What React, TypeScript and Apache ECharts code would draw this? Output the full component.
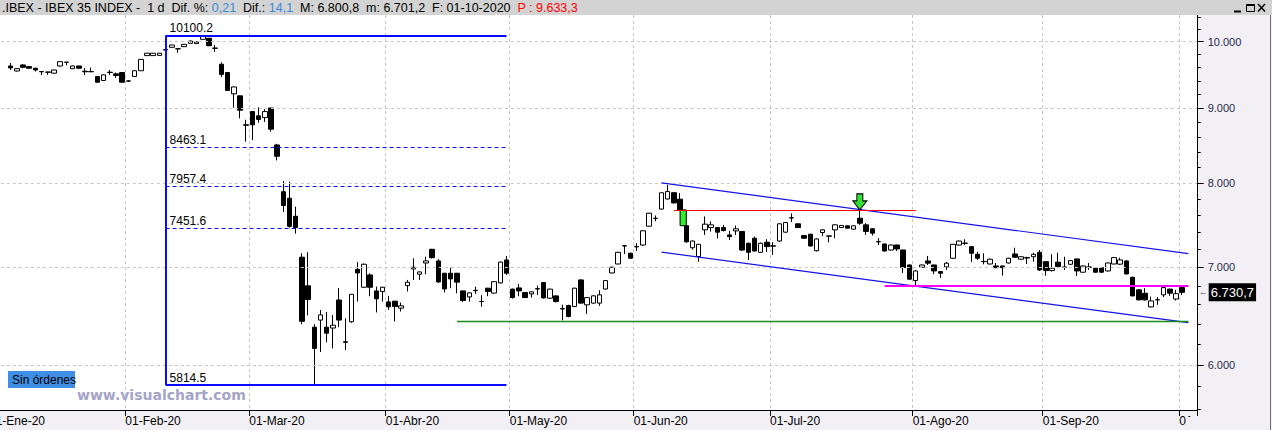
import React, { useEffect, useRef } from "react";
import * as echarts from "echarts";

// ---- categories (trading days 2020) ----
const monthNames = ["Ene", "Feb", "Mar", "Abr", "May", "Jun", "Jul", "Ago", "Sep", "Oct"];
const tradingDays: number[][] = [
  [2, 3, 6, 7, 8, 9, 10, 13, 14, 15, 16, 17, 20, 21, 22, 23, 24, 27, 28, 29, 30, 31],
  [3, 4, 5, 6, 7, 10, 11, 12, 13, 14, 17, 18, 19, 20, 21, 24, 25, 26, 27, 28],
  [2, 3, 4, 5, 6, 9, 10, 11, 12, 13, 16, 17, 18, 19, 20, 23, 24, 25, 26, 27, 30, 31],
  [1, 2, 3, 6, 7, 8, 9, 14, 15, 16, 17, 20, 21, 22, 23, 24, 27, 28, 29, 30],
  [4, 5, 6, 7, 8, 11, 12, 13, 14, 15, 18, 19, 20, 21, 22, 25, 26, 27, 28, 29],
  [1, 2, 3, 4, 5, 8, 9, 10, 11, 12, 15, 16, 17, 18, 19, 22, 23, 24, 25, 26, 29, 30],
  [1, 2, 3, 6, 7, 8, 9, 10, 13, 14, 15, 16, 17, 20, 21, 22, 23, 24, 27, 28, 29, 30, 31],
  [3, 4, 5, 6, 7, 10, 11, 12, 13, 14, 17, 18, 19, 20, 21, 24, 25, 26, 27, 28, 31],
  [1, 2, 3, 4, 7, 8, 9, 10, 11, 14, 15, 16, 17, 18, 21, 22, 23, 24, 25, 28, 29, 30],
  [1],
];
const trailingEmpty = [" ", "  "];

// ---- OHLC values: [open, close, low, high] ----
type C = number[] | null;
const jan: C[] = [
  null, null, null,
  [9624, 9594, 9563, 9668], [9548, 9583, 9540, 9590], [9639, 9604, 9590, 9655], [9614, 9590, 9580, 9625],
  [9590, 9563, 9540, 9595], [9540, 9536, 9487, 9542], [9532, 9530, 9490, 9534], [9515, 9563, 9510, 9566],
  [9624, 9690, 9615, 9695], [9682, 9680, 9633, 9685], [9583, 9624, 9580, 9628], [9624, 9590, 9585, 9628],
  [9545, 9536, 9487, 9590], [9540, 9536, 9532, 9600], [9465, 9380, 9375, 9470], [9405, 9490, 9400, 9495],
  [9530, 9525, 9490, 9563], [9505, 9480, 9445, 9525], [9525, 9380, 9375, 9530],
];
const feb: C[] = [
  [9395, 9400, 9390, 9410], [9465, 9552, 9460, 9560], [9552, 9725, 9548, 9728], [9783, 9820, 9780, 9823],
  [9783, 9820, 9780, 9823], [9786, 9820, 9783, 9823], [9875, 9870, 9860, 9885], [9912, 9948, 9905, 9950],
  [9890, 9888, 9825, 9892], [9922, 9959, 9918, 9962], [9975, 10011, 9970, 10015], [9970, 9995, 9967, 9998],
  [10038, 10090, 10035, 10100.2], [10055, 9937, 9930, 10060], [9900, 9897, 9840, 9948], [9650, 9497, 9460, 9680],
  [9525, 9260, 9255, 9530], [9210, 9310, 9010, 9315], [9180, 8975, 8860, 9185], [8770, 8765, 8540, 8840],
];
const mar: C[] = [
  [8955, 8770, 8560, 8960], [8895, 8845, 8800, 9015], [8870, 8955, 8810, 8990], [9005, 8710, 8675, 9010],
  [8495, 8345, 8290, 8510], [7890, 7720, 7640, 8025], [7810, 7470, 7455, 8015], [7590, 7455, 7385, 7705],
  [7115, 6430, 6400, 7160], [6800, 6655, 6490, 7170], [6370, 6160, 5814.5, 6400], [6442, 6495, 6125, 6545],
  [6370, 6310, 6220, 6525], [6362, 6390, 6160, 6495], [6650, 6442, 6370, 6775], [6225, 6220, 6144, 6460],
  [6425, 6710, 6415, 6712], [6980, 6940, 6633, 7059], [6785, 7036, 6780, 7045], [6918, 6785, 6690, 6936],
  [6746, 6662, 6520, 6792], [6740, 6785, 6633, 6790],
];
const apr: C[] = [
  [6630, 6578, 6547, 6693], [6637, 6582, 6428, 6640], [6565, 6589, 6530, 6623], [6803, 6839, 6740, 6864],
  [6984, 7003, 6864, 7102], [6926, 6951, 6864, 6955], [7050, 7073, 6926, 7120], [7204, 7110, 7100, 7210],
  [7073, 6842, 6832, 7092], [6937, 6767, 6730, 6940], [6937, 6875, 6775, 6998], [6937, 6840, 6720, 6940],
  [6746, 6644, 6630, 6750], [6682, 6725, 6633, 6728], [6752, 6748, 6714, 6790], [6635, 6633, 6580, 6700],
  [6775, 6740, 6690, 6778], [6723, 6845, 6715, 6850], [6832, 7060, 6825, 7065], [7084, 6937, 6918, 7129],
];
const may: C[] = [
  [6765, 6675, 6665, 6770], [6778, 6746, 6690, 6821], [6729, 6675, 6670, 6735], [6714, 6736, 6675, 6740],
  [6770, 6766, 6704, 6802], [6835, 6672, 6665, 6840], [6669, 6765, 6660, 6770], [6693, 6633, 6625, 6700],
  [6560, 6556, 6440, 6600], [6592, 6479, 6470, 6600], [6582, 6775, 6575, 6780], [6864, 6617, 6610, 6870],
  [6599, 6675, 6506, 6680], [6617, 6693, 6610, 6700], [6617, 6704, 6589, 6752], [6766, 6857, 6760, 6862],
  [6940, 7003, 6935, 7008], [7039, 7170, 7035, 7175], [7244, 7242, 7151, 7248], [7160, 7104, 7095, 7165],
];
const jun: C[] = [
  [7235, 7232, 7186, 7273], [7253, 7418, 7245, 7422], [7472, 7627, 7468, 7630], [7565, 7566, 7530, 7600],
  [7677, 7877, 7670, 7880], [7800, 7892, 7795, 7976], [7878, 7752, 7745, 7882], [7798, 7667, 7667, 7873],
  [7478, 7290, 7280, 7480], [7222, 7299, 7200, 7305], [7122, 7261, 7065, 7265], [7429, 7496, 7370, 7588],
  [7456, 7488, 7408, 7528], [7456, 7402, 7330, 7460], [7456, 7421, 7410, 7488], [7370, 7350, 7311, 7417],
  [7417, 7441, 7370, 7480], [7410, 7196, 7185, 7415], [7273, 7170, 7084, 7280], [7331, 7185, 7178, 7350],
  [7170, 7273, 7165, 7280], [7285, 7235, 7175, 7320],
];
const jul: C[] = [
  [7244, 7240, 7140, 7285], [7299, 7500, 7290, 7505], [7402, 7515, 7395, 7520], [7572, 7570, 7520, 7625],
  [7500, 7456, 7450, 7505], [7362, 7331, 7325, 7368], [7378, 7242, 7235, 7383], [7188, 7323, 7180, 7330],
  [7398, 7429, 7355, 7435], [7358, 7355, 7285, 7362], [7429, 7488, 7331, 7496], [7456, 7480, 7450, 7485],
  [7476, 7449, 7444, 7481], [7437, 7476, 7430, 7481], [7567, 7507, 7488, 7690], [7488, 7410, 7370, 7508],
  [7441, 7390, 7362, 7449], [7292, 7290, 7253, 7331], [7265, 7185, 7180, 7270], [7196, 7253, 7190, 7258],
  [7253, 7208, 7185, 7258], [7196, 6998, 6940, 7200], [7028, 6872, 6865, 7032],
];
const aug: C[] = [
  [6857, 6962, 6799, 6973], [7003, 7028, 6998, 7032], [7073, 7048, 7028, 7129], [7028, 6962, 6926, 7032],
  [6955, 6937, 6886, 6960], [7006, 7048, 6973, 7062], [7103, 7261, 7098, 7265], [7253, 7299, 7248, 7303],
  [7275, 7273, 7253, 7319], [7234, 7159, 7062, 7238], [7148, 7103, 7084, 7177], [7067, 7065, 7035, 7159],
  [7039, 7092, 7035, 7098], [7017, 6998, 6992, 7050], [7017, 6998, 6910, 7020], [7050, 7103, 7045, 7108],
  [7151, 7115, 7110, 7222], [7092, 7120, 7088, 7125], [7110, 7106, 7039, 7120], [7120, 7147, 7065, 7166],
  [7170, 6973, 6962, 7196],
];
const sep: C[] = [
  [7065, 6966, 6910, 7070], [6966, 6992, 6955, 7148], [7059, 7010, 6992, 7166], [7005, 7003, 6973, 7120],
  [7036, 7076, 7030, 7080], [7095, 6962, 6907, 7100], [6948, 7017, 6943, 7022], [7005, 7003, 6973, 7050],
  [6992, 6948, 6943, 6997], [6998, 6948, 6943, 7003], [6962, 7050, 6955, 7055], [7039, 7110, 7035, 7115],
  [7037, 7084, 7028, 7110], [7073, 6929, 6924, 7078], [6893, 6693, 6688, 6897], [6757, 6651, 6645, 6762],
  [6721, 6651, 6644, 6775], [6578, 6640, 6571, 6686], [6653, 6651, 6599, 6680], [6704, 6781, 6680, 6785],
  [6765, 6722, 6693, 6770], [6660, 6716.6, 6644, 6757],
];
const oct: C[] = [[6781, 6730.7, 6701.2, 6800.8]];

// ---- drawing-tool values ----
const fibHigh = 10100.2;
const fibLow = 5814.5;
const fibLevels = [8463.1, 7957.4, 7451.6];
const fibFromIdx = 28;
const fibToIdx = 83;
const channelUpper = [[108, 8000], [193, 7155]];
const channelLower = [[108, 7172], [193, 6416]];
const redLevel = 7667;
const redRange = [110, 149];
const gapTop = 7667;
const gapBottom = 7478;
const gapRange = [111, 112];
const arrowIdx = 140;
const magentaLevel = 6800.8;
const magentaRange = [144, 193];
const greenLevel = 6435;
const greenRange = [75, 193];
const lastPrice = 6730.7;
const lastPriceText = "6.730,7";

// ---- axis ticks ----
const majorTicks = [6000, 7000, 8000, 9000, 10000];
const minorTicks = [5600, 5800, 6000, 6200, 6400, 6600, 6800, 7000, 7200, 7400, 7600, 7800, 8000, 8200, 8400, 8600, 8800, 9000, 9200, 9400, 9600, 9800, 10000, 10200, 10400];

const FONT = '"Liberation Sans", Arial, sans-serif';
const SX = 14; // container is shifted 14px to the left of the page

function buildCategories() {
  const cats: string[] = [];
  const starts: Record<number, string> = {};
  tradingDays.forEach((days, m) => {
    days.forEach((d, k) => {
      if (k === 0) starts[cats.length] = "01-" + monthNames[m] + "-20";
      cats.push(String(d).padStart(2, "0") + "-" + String(m + 1).padStart(2, "0") + "-2020");
    });
  });
  trailingEmpty.forEach((c) => cats.push(c));
  return { cats, starts };
}

const fmtThousands = (v: number) => String(Math.round(v)).replace(/\B(?=(\d{3})+(?!\d))/g, ".");

export default function App() {
  const ref = useRef<HTMLDivElement>(null);
  useEffect(() => {
    if (!ref.current) return;
    const chart = echarts.init(ref.current, undefined, { renderer: "svg" });
    const { cats, starts } = buildCategories();
    const candles = [...jan, ...feb, ...mar, ...apr, ...may, ...jun, ...jul, ...aug, ...sep, ...oct].map((c) =>
      c ? c : ["-", "-", "-", "-"]
    );
    const isStart = (i: number) => starts[i] !== undefined;

    const fibLabel = (t: string) => ({
      show: true,
      position: "insideStartTop",
      formatter: t,
      color: "#000",
      fontSize: 12,
      fontFamily: FONT,
      distance: [4, 1],
    });
    const noLabel = { show: false };

    const markLineData: any[] = [
      [
        { coord: [fibFromIdx, fibHigh], lineStyle: { color: "#0a0aff", width: 2, type: "solid" }, label: fibLabel(String(fibHigh)) },
        { coord: [fibToIdx, fibHigh] },
      ],
      ...fibLevels.map((v) => [
        { coord: [fibFromIdx, v], lineStyle: { color: "#0a0aff", width: 1, type: [4, 3] }, label: fibLabel(String(v)) },
        { coord: [fibToIdx, v] },
      ]),
      [
        { coord: [fibFromIdx, fibLow], lineStyle: { color: "#0a0aff", width: 2, type: "solid" }, label: fibLabel(String(fibLow)) },
        { coord: [fibToIdx, fibLow] },
      ],
      [
        { coord: [fibFromIdx, fibHigh], lineStyle: { color: "#0a0aff", width: 2, type: "solid" }, label: noLabel },
        { coord: [fibFromIdx, fibLow] },
      ],
      [
        { coord: channelUpper[0], lineStyle: { color: "#1414e6", width: 1.2, type: "solid" }, label: noLabel },
        { coord: channelUpper[1] },
      ],
      [
        { coord: channelLower[0], lineStyle: { color: "#1414e6", width: 1.2, type: "solid" }, label: noLabel },
        { coord: channelLower[1] },
      ],
      [
        { coord: [greenRange[0], greenLevel], lineStyle: { color: "#1a8c1a", width: 1.3, type: "solid" }, label: noLabel },
        { coord: [greenRange[1], greenLevel] },
      ],
      [
        { coord: [redRange[0], redLevel], lineStyle: { color: "#ff0000", width: 1.2, type: "solid" }, label: noLabel },
        { coord: [redRange[1], redLevel] },
      ],
      [
        { coord: [magentaRange[0], magentaLevel], lineStyle: { color: "#ff00ff", width: 2, type: "solid" }, label: noLabel },
        { coord: [magentaRange[1], magentaLevel] },
      ],
    ];

    const priceTagLine: any[] = [
      {
        yAxis: lastPrice,
        lineStyle: { color: "rgba(0,0,0,0)", width: 1, type: "solid" },
        label: {
          show: true,
          position: "end",
          distance: 1,
          formatter: "{a|←}{b|" + lastPriceText + "}",
          rich: {
            a: { color: "#555", fontSize: 9, fontFamily: FONT, padding: [0, 1, 0, 0] },
            b: { color: "#fff", backgroundColor: "#000", fontSize: 13, fontFamily: FONT, padding: [3, 2, 2, 2] },
          },
        },
      },
    ];

    const option: any = {
      animation: false,
      backgroundColor: "#ffffff",
      grid: { left: 0.5, right: 74.3, top: 15, bottom: 20, containLabel: false },
      xAxis: {
        type: "category",
        data: cats,
        boundaryGap: true,
        z: 0,
        axisLine: { show: true, lineStyle: { color: "#000", width: 1 } },
        axisTick: { show: true, interval: (i: number) => isStart(i), length: 6, lineStyle: { color: "#000" } },
        axisLabel: {
          show: true,
          interval: (i: number) => isStart(i),
          formatter: (_v: string, i: number) => starts[i] || "",
          align: "left",
          color: "#000",
          fontSize: 12,
          fontFamily: FONT,
          margin: 5,
          padding: [0, 0, 0, -3],
        },
        splitLine: { show: true, interval: (i: number) => isStart(i), lineStyle: { color: "#c8c8c8", type: [3, 3], width: 1 } },
      },
      yAxis: [
        {
          type: "log",
          logBase: 10,
          min: 5589,
          max: 10431,
          position: "right",
          z: 3,
          axisLine: { show: true, lineStyle: { color: "#000", width: 1 } },
          axisTick: { show: true, customValues: majorTicks, length: 6, lineStyle: { color: "#000" } },
          axisLabel: {
            show: true,
            customValues: majorTicks,
            formatter: (v: number) => fmtThousands(v),
            margin: 10,
            color: "#1f2b4d",
            fontSize: 11,
            fontFamily: FONT,
          },
          splitLine: { show: true, lineStyle: { color: "#c8c8c8", type: [3, 3], width: 1 } },
        },
        {
          type: "log",
          logBase: 10,
          min: 5589,
          max: 10431,
          position: "right",
          z: 3,
          axisLine: { show: false },
          axisTick: { show: true, customValues: minorTicks, length: 3, lineStyle: { color: "#000" } },
          axisLabel: { show: false },
          splitLine: { show: false },
        },
      ],
      graphic: [
        { type: "rect", z: -5, shape: { x: 0, y: 410, width: SX + 1198, height: 20 }, style: { fill: "#f3f0f5" } },
        { type: "rect", z: 1, shape: { x: SX + 1186.5, y: 417, width: 12, height: 13 }, style: { fill: "#f3f0f5" } },
        { type: "rect", z: 1, shape: { x: SX + 1198, y: 15, width: 74, height: 415 }, style: { fill: "#f3f0f5" } },
        { type: "line", z: 1, shape: { x1: SX + 1270.5, y1: 15, x2: SX + 1270.5, y2: 430 }, style: { stroke: "#707070", lineWidth: 1 } },
        { type: "rect", z: 20, shape: { x: 0, y: 0, width: SX + 1272, height: 15 }, style: { fill: "#d3d3d3" } },
        {
          type: "text",
          z: 21,
          x: SX + 2,
          y: 8,
          style: {
            text:
              "{k|.IBEX - IBEX 35 INDEX -  1 d  Dif. %: }{b|0,21}{k|  Dif.: }{b|14,1}{k|  M: 6.800,8  m: 6.701,2  F: 01-10-2020  }{r|P : 9.633,3}",
            verticalAlign: "middle",
            font: "12.5px " + FONT,
            rich: {
              k: { fill: "#000", fontSize: 12.5, fontFamily: FONT },
              b: { fill: "#3d8ad8", fontSize: 12.5, fontFamily: FONT },
              r: { fill: "#ff0000", fontSize: 12.5, fontFamily: FONT },
            },
          },
        },
        { type: "line", z: 21, shape: { x1: SX + 1234, y1: 11.5, x2: SX + 1241, y2: 11.5 }, style: { stroke: "#000", lineWidth: 2 } },
        { type: "rect", z: 21, shape: { x: SX + 1246.5, y: 4.5, width: 8, height: 7 }, style: { fill: "none", stroke: "#000", lineWidth: 1 } },
        { type: "line", z: 21, shape: { x1: SX + 1246.5, y1: 5, x2: SX + 1254.5, y2: 5 }, style: { stroke: "#000", lineWidth: 2 } },
        { type: "line", z: 21, shape: { x1: SX + 1258, y1: 4, x2: SX + 1265, y2: 11.5 }, style: { stroke: "#000", lineWidth: 1.5 } },
        { type: "line", z: 21, shape: { x1: SX + 1265, y1: 4, x2: SX + 1258, y2: 11.5 }, style: { stroke: "#000", lineWidth: 1.5 } },
        { type: "rect", z: 10, shape: { x: SX + 8, y: 371, width: 67, height: 17 }, style: { fill: "#3f8fe6" } },
        {
          type: "text",
          z: 11,
          x: SX + 12,
          y: 380,
          style: { text: "Sin órdenes", verticalAlign: "middle", fill: "#000", font: "12px " + FONT },
        },
        {
          type: "text",
          z: 10,
          x: SX + 77,
          y: 395,
          style: { text: "www.visualchart.com", verticalAlign: "middle", fill: "#a4a4c8", font: 'bold 14px "DejaVu Sans", sans-serif' },
        },
      ],
      series: [
        {
          type: "candlestick",
          data: candles,
          barWidth: 5,
          clip: false,
          z: 2,
          emphasis: { disabled: true },
          itemStyle: { color: "#ffffff", color0: "#000000", borderColor: "#000000", borderColor0: "#000000", borderColorDoji: "#000000", borderWidth: 1 },
          markLine: {
            silent: true,
            symbol: ["none", "none"],
            animation: false,
            label: { show: false },
            emphasis: { disabled: true },
            data: markLineData,
          },
          markArea: {
            silent: true,
            itemStyle: { color: "#33ee33", borderColor: "#000", borderWidth: 1 },
            data: [[{ coord: [gapRange[0], gapTop] }, { coord: [gapRange[1], gapBottom] }]],
          },
          markPoint: {
            silent: true,
            symbol: "path://M4,0 L10,0 L10,7 L14,7 L7,16 L0,7 L4,7 Z",
            symbolSize: [14, 16],
            symbolOffset: [0, "-50%"],
            symbolKeepAspect: false,
            label: { show: false },
            itemStyle: { color: "#33e033", borderColor: "#000", borderWidth: 1 },
            data: [{ coord: [arrowIdx, redLevel] }],
          },
        },
        {
          type: "line",
          data: [],
          z: 5,
          silent: true,
          markLine: {
            silent: true,
            symbol: ["none", "none"],
            animation: false,
            data: priceTagLine,
          },
        },
      ],
    };
    chart.setOption(option);
    return () => chart.dispose();
  }, []);
  return <div ref={ref} style={{ position: "absolute", left: -SX, top: 0, width: 1272 + SX, height: 430 }} />;
}
